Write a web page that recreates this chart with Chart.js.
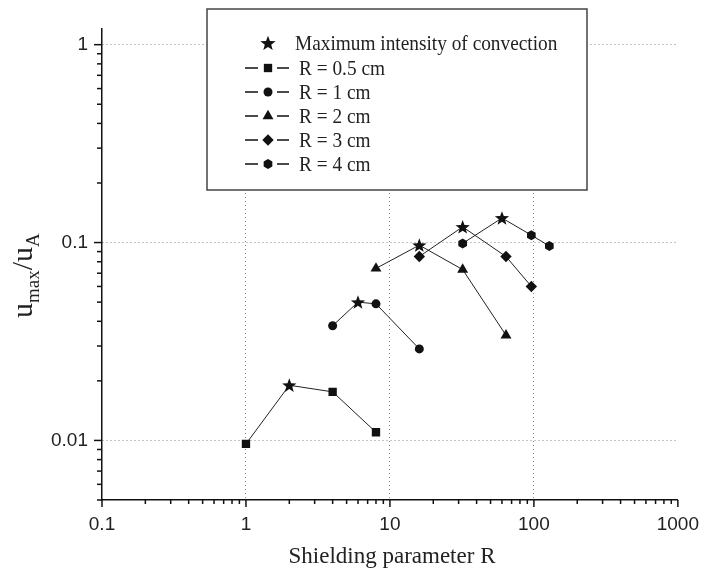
<!DOCTYPE html>
<html>
<head>
  <title>Convection intensity vs shielding parameter</title>
  <script src="https://cdn.jsdelivr.net/npm/chart.js"></script>
  <style>
    body { margin: 0; background: #fff; }
  </style>
</head>
<body>
  <canvas id="convChart" width="712" height="573"></canvas>

  <script>
    // values: x = shielding parameter R, y = u_max/u_A
    const xR05 = [1, 2, 4, 8];
    const yR05 = [0.0096, 0.019, 0.0176, 0.011];
    const xR1 = [4, 6, 8, 16];
    const yR1 = [0.038, 0.050, 0.049, 0.029];
    const xR2 = [8, 16, 32, 64];
    const yR2 = [0.074, 0.097, 0.073, 0.034];
    const xR3 = [16, 32, 64, 96];
    const yR3 = [0.085, 0.120, 0.085, 0.060];
    const xR4 = [32, 60, 96, 128];
    const yR4 = [0.099, 0.133, 0.109, 0.096];

    const seriesLabels = ['R = 0.5 cm', 'R = 1 cm', 'R = 2 cm', 'R = 3 cm', 'R = 4 cm'];
    const maxLabel = 'Maximum intensity of convection';
    const xTickLabels = [0.1, 1, 10, 100, 1000];
    const yTickLabels = [0.01, 0.1, 1];

    const ink = '#111';

    // filled 5-point star and hexagon, drawn as paths so they stay crisp
    function starPath(ctx, x, y, r) {
      ctx.beginPath();
      for (let i = 0; i < 10; i++) {
        const rr = i % 2 ? r * 0.42 : r;
        const a = -Math.PI / 2 + i * Math.PI / 5;
        ctx.lineTo(x + rr * Math.cos(a), y + r * 0.08 + rr * Math.sin(a));
      }
      ctx.closePath();
      ctx.fill();
    }
    function hexPath(ctx, x, y, r) {
      ctx.beginPath();
      for (let i = 0; i < 6; i++) {
        const a = -Math.PI / 2 + i * Math.PI / 3;
        ctx.lineTo(x + r * Math.cos(a), y + r * Math.sin(a));
      }
      ctx.closePath();
      ctx.fill();
    }

    const series = [
      { label: seriesLabels[0], xs: xR05, ys: yR05, style: 'rect', r: 5.9 },
      { label: seriesLabels[1], xs: xR1, ys: yR1, style: 'circle', r: 4.5 },
      { label: seriesLabels[2], xs: xR2, ys: yR2, style: 'triangle', r: 6.3 },
      { label: seriesLabels[3], xs: xR3, ys: yR3, style: 'rectRot', r: 5.7 },
      { label: seriesLabels[4], xs: xR4, ys: yR4, style: 'hex', r: 5 }
    ];

    const maxIndex = ys => ys.indexOf(Math.max(...ys));

    const datasets = [{
      label: maxLabel,
      data: series.map(s => ({ x: s.xs[maxIndex(s.ys)], y: s.ys[maxIndex(s.ys)] })),
      showLine: false,
      pointRadius: 0
    }].concat(series.map(s => ({
      label: s.label,
      data: s.xs.map((x, i) => ({ x: x, y: s.ys[i] })),
      showLine: true,
      borderColor: '#222',
      borderWidth: 1,
      pointStyle: s.style === 'hex' ? 'circle' : s.style,
      pointRadius: s.ys.map((v, i) => (i === maxIndex(s.ys) || s.style === 'hex') ? 0 : s.r),
      pointBackgroundColor: ink,
      pointBorderWidth: 0
    })));

    // 2 = decade tick, 1 = minor tick, 0 = no tick
    function tickKind(v) {
      const e = Math.floor(Math.log10(v) + 1e-9);
      const s = v / Math.pow(10, e);
      if (Math.abs(s - Math.round(s)) > 1e-6) return 0;
      return Math.round(s) === 1 ? 2 : 1;
    }
    const inList = (list, v) => list.some(t => Math.abs(t - v) / t < 1e-6);

    const extras = {
      id: 'extras',
      afterDatasetsDraw(chart) {
        const ctx = chart.ctx;
        ctx.save();
        ctx.fillStyle = ink;
        // hexagons of the R = 4 cm series (skip its maximum, which gets a star)
        const hexMeta = chart.getDatasetMeta(5);
        hexMeta.data.forEach((p, i) => {
          if (i !== maxIndex(yR4)) hexPath(ctx, p.x, p.y, 5);
        });
        chart.getDatasetMeta(0).data.forEach(p => starPath(ctx, p.x, p.y, 7.5));
        ctx.restore();
      },
      afterDraw(chart) {
        const { ctx, chartArea: a, scales: { x, y } } = chart;
        ctx.save();

        // tick marks, pointing outwards
        ctx.strokeStyle = ink;
        ctx.lineWidth = 1.5;
        x.ticks.forEach(t => {
          const k = tickKind(t.value);
          if (!k) return;
          const px = x.getPixelForValue(t.value);
          ctx.beginPath();
          ctx.moveTo(px, a.bottom);
          ctx.lineTo(px, a.bottom + (k === 2 ? 7 : 4));
          ctx.stroke();
        });
        y.ticks.forEach(t => {
          const k = tickKind(t.value);
          if (!k) return;
          const py = y.getPixelForValue(t.value);
          ctx.beginPath();
          ctx.moveTo(a.left, py);
          ctx.lineTo(a.left - (k === 2 ? 8 : 5), py);
          ctx.stroke();
        });

        // axis titles
        ctx.fillStyle = '#222';
        ctx.font = '23px "Liberation Serif"';
        ctx.textAlign = 'center';
        ctx.textBaseline = 'alphabetic';
        ctx.fillText('Shielding parameter R', 392, 563);

        ctx.save();
        ctx.translate(32, 318);
        ctx.rotate(-Math.PI / 2);
        ctx.textAlign = 'left';
        let cx = 0;
        const part = (txt, size, dy) => {
          ctx.font = size + 'px "Liberation Serif"';
          ctx.fillText(txt, cx, dy);
          cx += ctx.measureText(txt).width;
        };
        part('u', 30, 0);
        part('max', 19, 7);
        part('/', 30, 0);
        part('u', 30, 0);
        part('A', 19, 7);
        ctx.restore();

        // legend box
        ctx.fillStyle = '#fff';
        ctx.fillRect(207, 9, 380, 181);
        ctx.strokeStyle = '#444';
        ctx.lineWidth = 1.5;
        ctx.strokeRect(207, 9, 380, 181);

        const text = (txt, tx, ty) => {
          ctx.save();
          ctx.translate(tx, ty);
          ctx.scale(0.92, 1);
          ctx.fillStyle = '#222';
          ctx.font = '21px "Liberation Serif"';
          ctx.textAlign = 'left';
          ctx.fillText(txt, 0, 0);
          ctx.restore();
        };

        ctx.fillStyle = ink;
        starPath(ctx, 268, 43, 8);
        text(maxLabel, 295, 50);

        series.forEach((s, i) => {
          const ly = 68 + i * 24;
          ctx.strokeStyle = ink;
          ctx.lineWidth = 1.5;
          ctx.beginPath();
          ctx.moveTo(245, ly); ctx.lineTo(258, ly);
          ctx.moveTo(277, ly); ctx.lineTo(289, ly);
          ctx.stroke();
          ctx.fillStyle = ink;
          if (s.style === 'hex') {
            hexPath(ctx, 268, ly, s.r);
          } else {
            Chart.helpers.drawPoint(ctx, { pointStyle: s.style, rotation: 0, radius: s.r, borderWidth: 0 }, 268, ly);
          }
          text(s.label, 299, ly + 7);
        });

        ctx.restore();
      }
    };

    const gridColor = (list) => (c) => {
      const v = c.tick && c.tick.value;
      if (v === undefined) return 'transparent';
      return tickKind(v) === 2 && inList(list, v) ? '#8a8a8a' : 'transparent';
    };

    new Chart(document.getElementById('convChart').getContext('2d'), {
      type: 'scatter',
      data: { datasets: datasets },
      options: {
        responsive: false,
        animation: false,
        events: [],
        devicePixelRatio: 1,
        layout: { padding: { left: 0, top: 29, right: 23, bottom: 0 } },
        plugins: { legend: { display: false }, tooltip: { enabled: false } },
        scales: {
          x: {
            type: 'logarithmic',
            position: 'bottom',
            min: 0.1,
            max: 1000,
            afterFit: s => { s.height = 73; },
            grid: { color: gridColor([1, 10, 100]), lineWidth: 1, drawTicks: false },
            border: { display: true, color: ink, width: 1.5, dash: [1, 3] },
            ticks: {
              autoSkip: false,
              maxRotation: 0,
              padding: 13,
              color: '#222',
              font: { family: '"Liberation Sans"', size: 19 },
              callback: v => inList(xTickLabels, v) ? String(v) : ''
            }
          },
          y: {
            type: 'logarithmic',
            position: 'left',
            min: 0.005,
            max: 1.2,
            afterFit: s => { s.width = 102; },
            grid: { color: gridColor(yTickLabels), lineWidth: 1, drawTicks: false },
            border: { display: true, color: ink, width: 1.5, dash: [1, 3] },
            ticks: {
              autoSkip: false,
              padding: 14,
              color: '#222',
              font: { family: '"Liberation Sans"', size: 19 },
              callback: v => inList(yTickLabels, v) ? String(v) : ''
            }
          }
        }
      },
      plugins: [extras]
    });
  </script>
</body>
</html>
